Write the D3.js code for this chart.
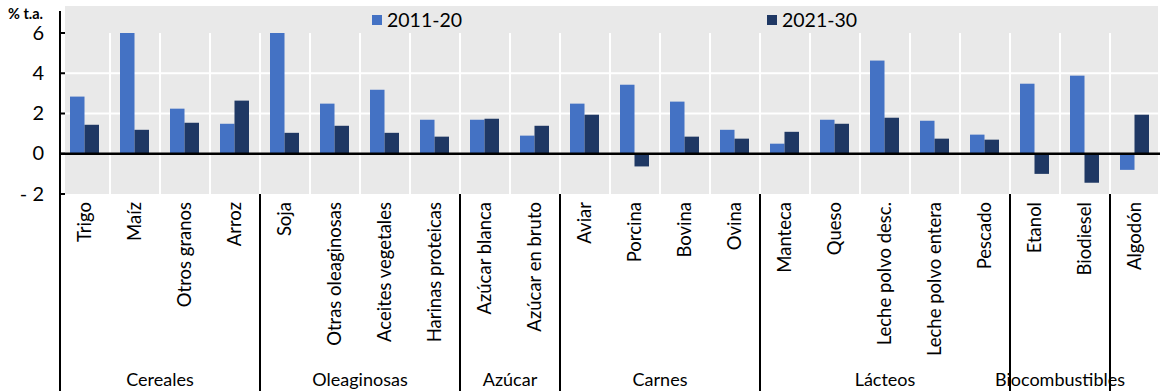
<!DOCTYPE html>
<html>
<head>
<meta charset="utf-8">
<script src="https://cdn.jsdelivr.net/npm/d3@7"></script>
<style>
  body { margin: 0; background: #fff; }
  text { font-family: Lato, "Open Sans", sans-serif; fill: #000; }
</style>
</head>
<body>
<div class="canvas"></div>
<script>
const dims = {width: 1164, height: 391};
const plot = {left: 60, right: 1160, top: 33, bottom: 194};

// data
const categories = ['Trigo', 'Maíz', 'Otros granos', 'Arroz',
    'Soja', 'Otras oleaginosas', 'Aceites vegetales', 'Harinas proteicas',
    'Azúcar blanca', 'Azúcar en bruto',
    'Aviar', 'Porcina', 'Bovina', 'Ovina',
    'Manteca', 'Queso', 'Leche polvo desc.', 'Leche polvo entera', 'Pescado',
    'Etanol', 'Biodiesel', 'Algodón'];
const groups = ['Cereales', 'Oleaginosas', 'Azúcar', 'Carnes', 'Lácteos', 'Biocombustibles', ''];
const groupSizes = [4, 4, 2, 4, 5, 2, 1];
const seriesNames = ['2011-20', '2021-30'];
const values2011 = [2.84, 6.0, 2.24, 1.49, 6.0, 2.49, 3.18, 1.69, 1.69, 0.9, 2.49, 3.43, 2.59, 1.19,
    0.5, 1.69, 4.63, 1.64, 0.95, 3.48, 3.88, -0.8];
const values2021 = [1.44, 1.19, 1.54, 2.64, 1.04, 1.39, 1.04, 0.85, 1.74, 1.39, 1.94, -0.63, 0.85, 0.75,
    1.09, 1.49, 1.79, 0.75, 0.7, -1.0, -1.44, 1.94];
const yTicks = [-2, 0, 2, 4, 6];
const yTickLabels = ['- 2', '0', '2', '4', '6'];

const colour = d3.scaleOrdinal().domain(seriesNames).range(['#4472C4', '#1F3864']);

const svg = d3.select('.canvas')
    .append('svg')
    .attr('width', dims.width)
    .attr('height', dims.height);

const x = d3.scaleBand()
    .domain(categories)
    .range([plot.left, plot.right]);

const x1 = d3.scaleBand()
    .domain(seriesNames)
    .range([x.bandwidth() * 0.2, x.bandwidth() * 0.78]);

const y = d3.scaleLinear()
    .domain([-2, 6])
    .range([plot.bottom, plot.top]);

// background
svg.append('rect')
    .attr('x', 65).attr('y', 6)
    .attr('width', 1158 - 65).attr('height', plot.bottom - 6)
    .attr('fill', '#E9E9E9');

// grid
svg.append('g')
    .selectAll('line')
    .data([2, 4])
    .enter().append('line')
    .attr('x1', 65).attr('x2', 1158)
    .attr('y1', d => y(d)).attr('y2', d => y(d))
    .attr('stroke', '#fff').attr('stroke-width', 2);

svg.append('g')
    .selectAll('line')
    .data(categories.slice(1))
    .enter().append('line')
    .attr('x1', d => x(d)).attr('x2', d => x(d))
    .attr('y1', plot.top).attr('y2', plot.bottom)
    .attr('stroke', '#fff').attr('stroke-width', 2);

// bars
const rows = categories.map((c, i) => ({cat: c, vals: [values2011[i], values2021[i]]}));

svg.append('g')
    .selectAll('g')
    .data(rows)
    .enter().append('g')
    .attr('transform', d => `translate(${x(d.cat)}, 0)`)
    .selectAll('rect')
    .data(d => d.vals.map((v, j) => ({name: seriesNames[j], value: v})))
    .enter().append('rect')
    .attr('x', d => x1(d.name))
    .attr('width', x1.bandwidth())
    .attr('y', d => y(Math.max(0, d.value)))
    .attr('height', d => Math.abs(y(d.value) - y(0)))
    .attr('fill', d => colour(d.name));

// zero line
svg.append('line')
    .attr('x1', plot.left).attr('x2', plot.right)
    .attr('y1', y(0)).attr('y2', y(0))
    .attr('stroke', '#000').attr('stroke-width', 2.5);

// y axis
svg.append('line')
    .attr('x1', plot.left).attr('x2', plot.left)
    .attr('y1', 11).attr('y2', dims.height)
    .attr('stroke', '#000').attr('stroke-width', 2);

const yAxis = svg.append('g');
yAxis.selectAll('line')
    .data(yTicks)
    .enter().append('line')
    .attr('x1', plot.left).attr('x2', plot.left + 5)
    .attr('y1', d => y(d)).attr('y2', d => y(d))
    .attr('stroke', '#000').attr('stroke-width', 2);

yAxis.selectAll('text')
    .data(yTicks)
    .enter().append('text')
    .attr('x', 44)
    .attr('y', d => y(d))
    .attr('dy', '0.33em')
    .attr('text-anchor', 'end')
    .style('font-size', '20px')
    .text((d, i) => yTickLabels[i]);

svg.append('text')
    .attr('x', 8).attr('y', 19)
    .style('font-size', '14.5px')
    .style('font-weight', 'bold')
    .text('% t.a.');

// category labels
svg.append('g')
    .selectAll('text')
    .data(categories)
    .enter().append('text')
    .attr('transform', d => `translate(${x(d) + x.bandwidth() / 2}, 202) rotate(-90)`)
    .attr('dy', '0.35em')
    .attr('text-anchor', 'end')
    .style('font-size', '18.5px')
    .text(d => d);

// group separators and labels
let start = 0;
const groupData = groups.map((g, i) => {
    const d = {name: g, x0: plot.left + start * x.step(), x1: plot.left + (start + groupSizes[i]) * x.step()};
    start += groupSizes[i];
    return d;
});

svg.append('g')
    .selectAll('line')
    .data(groupData.slice(0, -1))
    .enter().append('line')
    .attr('x1', d => d.x1).attr('x2', d => d.x1)
    .attr('y1', plot.bottom).attr('y2', dims.height)
    .attr('stroke', '#000').attr('stroke-width', 2);

svg.append('g')
    .selectAll('text')
    .data(groupData)
    .enter().append('text')
    .attr('x', d => (d.x0 + d.x1) / 2)
    .attr('y', 386)
    .attr('text-anchor', 'middle')
    .style('font-size', '18px')
    .text(d => d.name);

// legend
const legend = svg.append('g');
const legendX = [372, 767];
seriesNames.forEach((s, i) => {
    legend.append('rect')
        .attr('x', legendX[i]).attr('y', 15)
        .attr('width', 10).attr('height', 10)
        .attr('fill', colour(s));
    legend.append('text')
        .attr('x', legendX[i] + 15).attr('y', 27)
        .style('font-size', '19.5px')
        .text(s);
});
</script>
</body>
</html>
